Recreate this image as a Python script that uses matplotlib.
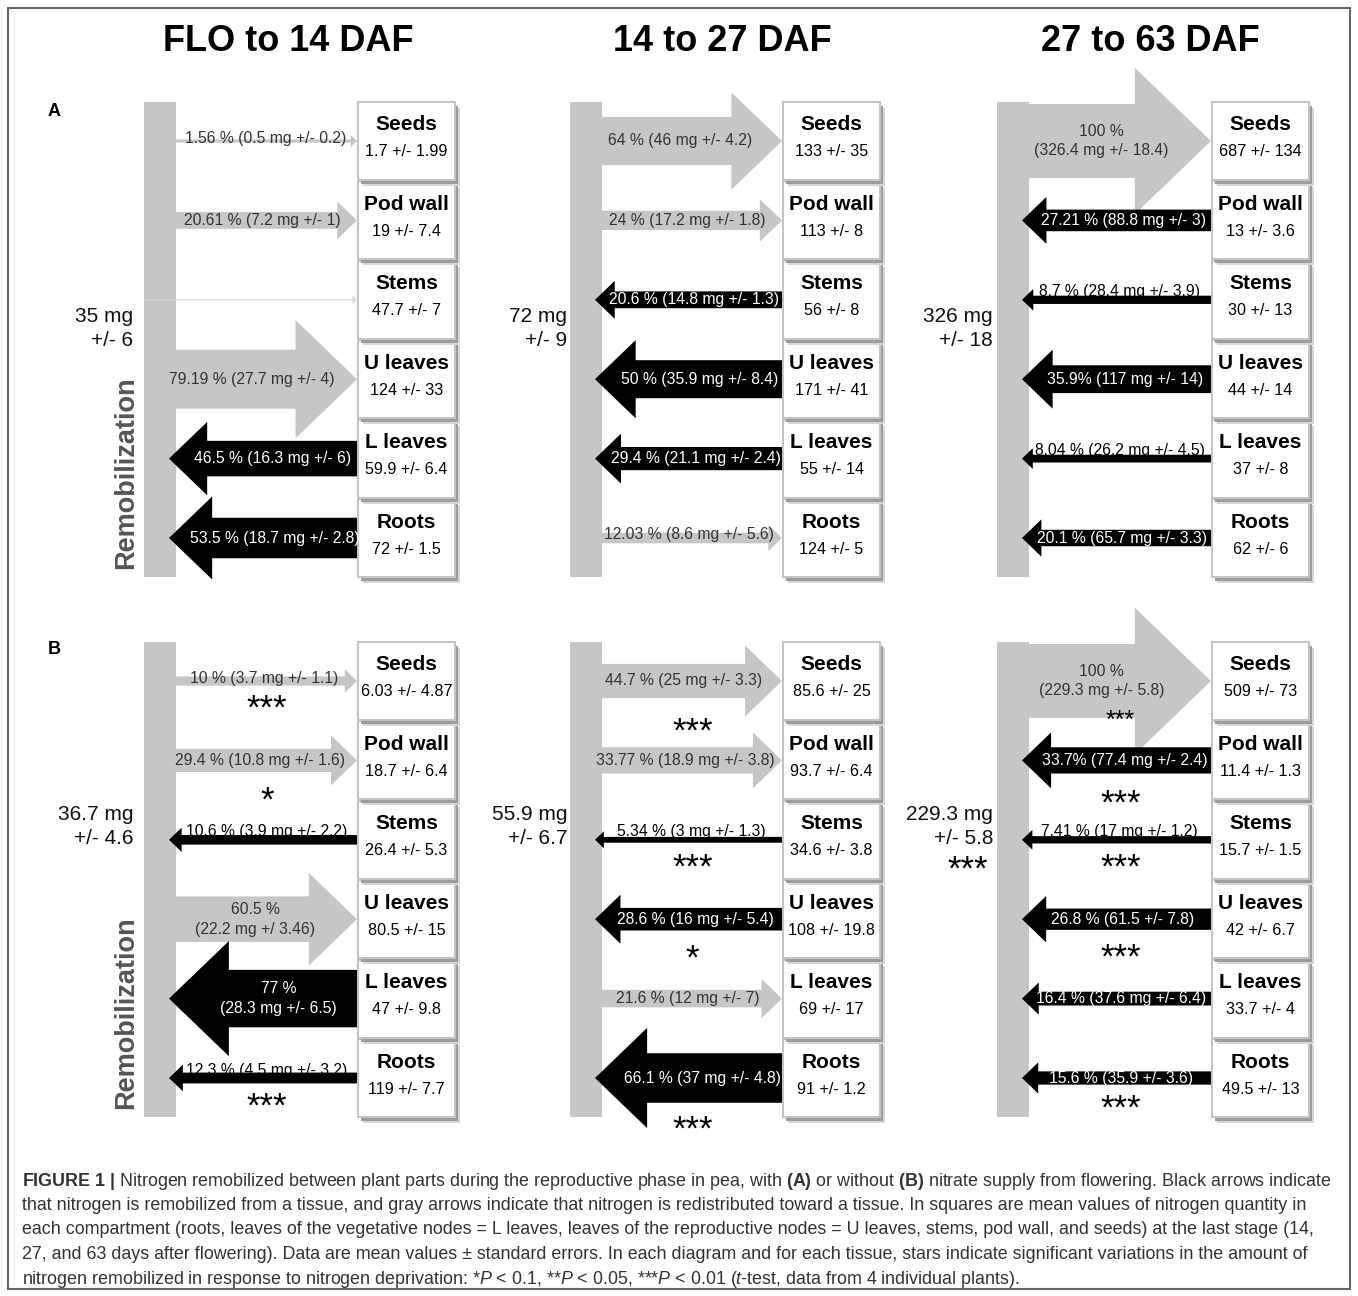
import numpy as np
import matplotlib.pyplot as plt
from matplotlib.patches import Rectangle

plt.rcParams['font.family'] = ['Liberation Sans', 'DejaVu Sans']
plt.rcParams['mathtext.fontset'] = 'custom'
plt.rcParams['mathtext.rm'] = 'Liberation Sans'
plt.rcParams['mathtext.it'] = 'Liberation Sans:italic'
plt.rcParams['mathtext.bf'] = 'Liberation Sans:bold'

periods = ["FLO to 14 DAF", "14 to 27 DAF", "27 to 63 DAF"]
tissues = ["Seeds", "Pod wall", "Stems", "U leaves", "L leaves", "Roots"]

# panel A, with nitrate. dir 1 = toward tissue (gray), -1 = from tissue (black)
a_pct = [[1.56, 20.61, 0, 79.19, 46.5, 53.5],
         [64, 24, 20.6, 50, 29.4, 12.03],
         [100, 27.21, 8.7, 35.9, 8.04, 20.1]]
a_dir = [[1, 1, 1, 1, -1, -1],
         [1, 1, -1, -1, -1, 1],
         [1, -1, -1, -1, -1, -1]]
a_lab = [["1.56 % (0.5 mg +/- 0.2)", "20.61 % (7.2 mg +/- 1)", "",
          "79.19 % (27.7 mg +/- 4)", "46.5 % (16.3 mg +/- 6)", "53.5 % (18.7 mg +/- 2.8)"],
         ["64 % (46 mg +/- 4.2)", "24 % (17.2 mg +/- 1.8)", "20.6 % (14.8 mg +/- 1.3)",
          "50 % (35.9 mg +/- 8.4)", "29.4 % (21.1 mg +/- 2.4)", "12.03 % (8.6 mg +/- 5.6)"],
         ["100 %\n(326.4 mg +/- 18.4)", "27.21 % (88.8 mg +/- 3)", "8.7 % (28.4 mg +/- 3.9)",
          "35.9% (117 mg +/- 14)", "8.04 % (26.2 mg +/- 4.5)", "20.1 % (65.7 mg +/- 3.3)"]]
a_stars = [["", "", "", "", "", ""]] * 3
a_box = [["1.7 +/- 1.99", "19 +/- 7.4", "47.7 +/- 7", "124 +/- 33", "59.9 +/- 6.4", "72 +/- 1.5"],
         ["133 +/- 35", "113 +/- 8", "56 +/- 8", "171 +/- 41", "55 +/- 14", "124 +/- 5"],
         ["687 +/- 134", "13 +/- 3.6", "30 +/- 13", "44 +/- 14", "37 +/- 8", "62 +/- 6"]]
a_total = ["35 mg\n+/- 6", "72 mg\n+/- 9", "326 mg\n+/- 18"]
a_total_stars = ["", "", ""]

# panel B, without nitrate
b_pct = [[10, 29.4, 10.6, 60.5, 77, 12.3],
         [44.7, 33.77, 5.34, 28.6, 21.6, 66.1],
         [100, 33.7, 7.41, 26.8, 16.4, 15.6]]
b_dir = [[1, 1, -1, 1, -1, -1],
         [1, 1, -1, -1, 1, -1],
         [1, -1, -1, -1, -1, -1]]
b_lab = [["10 % (3.7 mg +/- 1.1)", "29.4 % (10.8 mg +/- 1.6)", "10.6 % (3.9 mg +/- 2.2)",
          "60.5 %\n(22.2 mg +/ 3.46)", "77 %\n(28.3 mg +/- 6.5)", "12.3 % (4.5 mg +/- 3.2)"],
         ["44.7 % (25 mg +/- 3.3)", "33.77 % (18.9 mg +/- 3.8)", "5.34 % (3 mg +/- 1.3)",
          "28.6 % (16 mg +/- 5.4)", "21.6 % (12 mg +/- 7)", "66.1 % (37 mg +/- 4.8)"],
         ["100 %\n(229.3 mg +/- 5.8)", "33.7% (77.4 mg +/- 2.4)", "7.41 % (17 mg +/- 1.2)",
          "26.8 % (61.5 +/- 7.8)", "16.4 % (37.6 mg +/- 6.4)", "15.6 % (35.9 +/- 3.6)"]]
b_stars = [["***", "*", "", "", "", "***"],
           ["***", "", "***", "*", "", "***"],
           ["***", "***", "***", "***", "", "***"]]
b_box = [["6.03 +/- 4.87", "18.7 +/- 6.4", "26.4 +/- 5.3", "80.5 +/- 15", "47 +/- 9.8", "119 +/- 7.7"],
         ["85.6 +/- 25", "93.7 +/- 6.4", "34.6 +/- 3.8", "108 +/- 19.8", "69 +/- 17", "91 +/- 1.2"],
         ["509 +/- 73", "11.4 +/- 1.3", "15.7 +/- 1.5", "42 +/- 6.7", "33.7 +/- 4", "49.5 +/- 13"]]
b_total = ["36.7 mg\n+/- 4.6", "55.9 mg\n+/- 6.7", "229.3 mg\n+/- 5.8"]
b_total_stars = ["", "", "***"]

caption = [
    r"$\mathbf{FIGURE\ 1\ |}$ Nitrogen remobilized between plant parts during the reproductive phase in pea, with "
    r"$\mathbf{(A)}$ or without $\mathbf{(B)}$ nitrate supply from flowering. Black arrows indicate",
    "that nitrogen is remobilized from a tissue, and gray arrows indicate that nitrogen is redistributed "
    "toward a tissue. In squares are mean values of nitrogen quantity in",
    "each compartment (roots, leaves of the vegetative nodes = L leaves, leaves of the reproductive nodes = "
    "U leaves, stems, pod wall, and seeds) at the last stage (14,",
    "27, and 63 days after flowering). Data are mean values \u00b1 standard errors. In each diagram and for "
    "each tissue, stars indicate significant variations in the amount of",
    r"nitrogen remobilized in response to nitrogen deprivation: *$\mathit{P}$ < 0.1, **$\mathit{P}$ < 0.05, "
    r"***$\mathit{P}$ < 0.01 ($\mathit{t}$-test, data from 4 individual plants).",
]

GRAY = '#c6c6c6'
W, H = 1358, 1296
fig = plt.figure(figsize=(W / 100, H / 100), dpi=100)
ax = fig.add_axes([0, 0, 1, 1])
ax.set_xlim(0, W)
ax.set_ylim(H, 0)
ax.axis('off')

bar_x = [144, 570, 997]
bar_w = 32
box_x = [358, 783, 1212]
box_w = 97
box_h = 78
pitch = 79.4
panel_top = [102, 642]
total_y = [328, 826]
total_x = [133, 567, 993]


def mtext(x, y, s, step, **kw):
    lines = s.split("\n")
    for k, line in enumerate(lines):
        ax.text(x, y + (k - (len(lines) - 1) / 2) * step, line, **kw)


def stars_text(x, y, s, fs):
    em = fs * 100 / 72
    ax.text(x, y + 0.56 * em, s, ha='center', va='baseline', fontsize=fs, zorder=40)


def draw_panel(p, pcts, dirs, labs, stars, boxes, totals, tstars):
    top = panel_top[p]
    bottom = top + 5 * pitch + box_h
    for j in range(3):
        x0 = bar_x[j]
        x1 = x0 + bar_w
        bx = box_x[j]
        ax.add_patch(Rectangle((x0, top), bar_w, bottom - top, color=GRAY, lw=0, zorder=4))
        for i in range(6):
            c = top + i * pitch + box_h / 2
            pct = pcts[j][i]
            s = 0.72 * pct + 2 if pct > 0 else 1.2
            hw = 1.9 * s + 6
            hl = 0.52 * hw
            if dirs[j][i] > 0:
                col = GRAY if pct > 0 else '#d4d4d4'
                ax.arrow(x0, c, bx - 1 - x0, 0, width=s, head_width=hw, head_length=hl,
                         length_includes_head=True, color=col, lw=0, zorder=5)
                lx = 0.5 * ((x1 + bx) / 2 + (x1 + bx - hl) / 2)
                tcol = '#333333'
                ly = c - (3 if s < 12 else 0)
            else:
                tip = x1 - 7
                ax.arrow(bx, c, tip - bx, 0, width=s, head_width=hw, head_length=hl,
                         length_includes_head=True, color='black', lw=0, zorder=6)
                lx = 0.5 * ((tip + bx) / 2 + (tip + hl + bx) / 2)
                if pct >= 15:
                    tcol = 'white'
                    ly = c
                else:
                    tcol = 'black'
                    ly = c - 8
            if labs[j][i]:
                mtext(lx, ly, labs[j][i], 20, ha='center', va='center', fontsize=11.3,
                      color=tcol, zorder=30)
            if stars[j][i]:
                if "\n" in labs[j][i]:
                    stars_text((x1 + bx) / 2, c + 33, stars[j][i], 18)
                else:
                    sy = c + min(max(hw / 2 + 6, 18), 42)
                    stars_text((x1 + bx) / 2, sy, stars[j][i], 25)

            # tissue box with drop shadow
            y = top + i * pitch
            ax.add_patch(Rectangle((bx + 5, y + 6), box_w, box_h, fc='#d6d6d6', lw=0,
                                   zorder=18.5 - 2 * i))
            ax.add_patch(Rectangle((bx + 3, y + 4), box_w, box_h, fc='#9c9c9c', lw=0,
                                   zorder=19 - 2 * i))
            ax.add_patch(Rectangle((bx, y), box_w, box_h, fc='white', ec='#c4c4c4', lw=1.5,
                                   zorder=20 - 2 * i))
            ax.text(bx + box_w / 2, y + 23, tissues[i], ha='center', va='center',
                    fontsize=15, fontweight='bold', zorder=30)
            ax.text(bx + box_w / 2, y + 50, boxes[j][i], ha='center', va='center',
                    fontsize=11.6, zorder=30)

        mtext(total_x[j], total_y[p], totals[j], 24, ha='right', va='center', fontsize=15,
              color='#111111')
        if tstars[j]:
            stars_text(total_x[j] - 25, total_y[p] + 34, tstars[j], 25)

    ax.text(126, bottom - 8, "Remobilization", rotation=90, ha='center', va='bottom',
            fontsize=19.5, fontweight='bold', color='#555555')


for j in range(3):
    ax.text([288, 722, 1150][j], 51, periods[j], ha='center', va='baseline',
            fontsize=26, fontweight='bold')
ax.text(54, 112, "A", ha='center', va='center', fontsize=13, fontweight='bold')
ax.text(54, 650, "B", ha='center', va='center', fontsize=13, fontweight='bold')

draw_panel(0, a_pct, a_dir, a_lab, a_stars, a_box, a_total, a_total_stars)
draw_panel(1, b_pct, b_dir, b_lab, b_stars, b_box, b_total, b_total_stars)

for k, line in enumerate(caption):
    ax.text(22, 1181 + k * 24.5, line, ha='left', va='center', fontsize=12.9, color='#333333')

ax.add_patch(Rectangle((8, 8), W - 16, H - 15, fill=False, ec='#666666', lw=1.5, zorder=50))

fig.savefig("out.png", dpi=100)
